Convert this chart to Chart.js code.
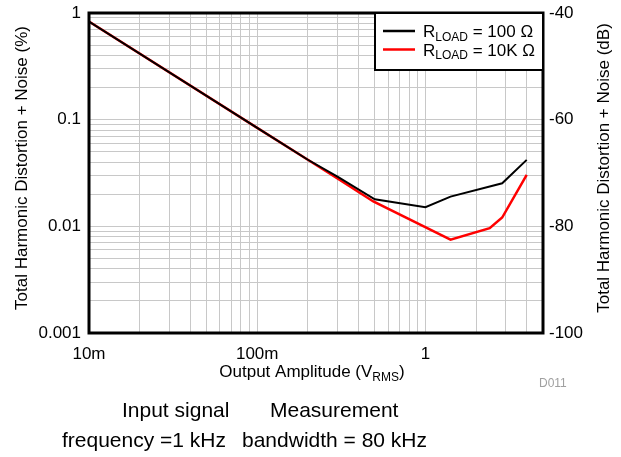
<!DOCTYPE html>
<html>
<head>
<meta charset="utf-8">
<script src="https://cdn.jsdelivr.net/npm/chart.js@4.4.1/dist/chart.umd.min.js"></script>
<style>
  body { margin: 0; background: #fff; }
  #wrap { width: 621px; height: 457px; }
</style>
</head>
<body>
<div id="wrap"><canvas id="thdChart" width="621" height="457"></canvas></div>
<script>
// output amplitude (Vrms) and THD+N (%)
var xLoad100 = [0.01, 0.1, 0.2, 0.3, 0.5, 1, 1.41, 2.86, 4];
var thdLoad100 = [0.83, 0.0838, 0.0421, 0.0292, 0.0179, 0.0151, 0.019, 0.0253, 0.042];
var xLoad10k = [0.01, 0.1, 0.2, 0.3, 0.49, 1.41, 2.41, 2.86, 4];
var thdLoad10k = [0.83, 0.0838, 0.0421, 0.0281, 0.0171, 0.0075, 0.0096, 0.0121, 0.0304];

var xTickVals = [0.01,0.02,0.03,0.04,0.05,0.06,0.07,0.08,0.09,
                 0.1,0.2,0.3,0.4,0.5,0.6,0.7,0.8,0.9,1,2,3,4,5];
var xTickLabels = {0.01: "10m", 0.1: "100m", 1: "1"};
var yTickVals = [0.001,0.002,0.003,0.004,0.005,0.006,0.007,0.008,0.009,
                 0.01,0.02,0.03,0.04,0.05,0.06,0.07,0.08,0.09,
                 0.1,0.2,0.3,0.4,0.5,0.6,0.7,0.8,0.9,1];
var yTickLabels = {0.001: "0.001", 0.01: "0.01", 0.1: "0.1", 1: "1"};
var dbTickVals = [-100, -80, -60, -40];

var legendNames = ["100 \u03A9", "10K \u03A9"];
var lineColors = ["#000000", "#ff0000"];

var FONT = "'Liberation Sans', Arial, Helvetica, sans-serif";

function toPoints(xs, ys) {
    return xs.map(function (x, i) { return {x: x, y: ys[i]}; });
}

function fixTicks(vals) {
    return function (scale) {
        scale.ticks = vals.map(function (v) { return {value: v}; });
    };
}

// no extra room for label overhang, the plot box is placed by hand
function noPad(size, horizontal) {
    return function (s) {
        if (horizontal) s.height = size; else s.width = size;
        s.paddingTop = 0; s.paddingBottom = 0;
        s.paddingLeft = 0; s.paddingRight = 0;
    };
}

// text with a subscript part, drawn left to right
function drawSub(ctx, x, y, parts, size) {
    parts.forEach(function (p) {
        var s = p.sub ? Math.round(size * 0.68) : size;
        ctx.font = s + "px " + FONT;
        ctx.fillText(p.t, x, p.sub ? y + size * 0.22 : y);
        x += ctx.measureText(p.t).width;
    });
    return x;
}
function subWidth(ctx, parts, size) {
    var w = 0;
    parts.forEach(function (p) {
        ctx.font = (p.sub ? Math.round(size * 0.68) : size) + "px " + FONT;
        w += ctx.measureText(p.t).width;
    });
    return w;
}

var decoPlugin = {
    id: "deco",
    afterDatasetsDraw: function (chart) {
        var ctx = chart.ctx, a = chart.chartArea;
        ctx.save();
        // plot frame
        ctx.strokeStyle = "#000";
        ctx.lineWidth = 3;
        ctx.strokeRect(a.left, a.top, a.right - a.left, a.bottom - a.top);

        // legend box
        var lx = 375, ly = a.top, lw = a.right - 375, lh = 57;
        ctx.fillStyle = "#fff";
        ctx.fillRect(lx, ly, lw, lh);
        ctx.lineWidth = 2;
        ctx.strokeRect(lx, ly, lw, lh);
        ctx.textBaseline = "alphabetic";
        ctx.textAlign = "left";
        for (var i = 0; i < legendNames.length; i++) {
            var yy = 31 + i * 18.5;
            ctx.strokeStyle = lineColors[i];
            ctx.lineWidth = 2.5;
            ctx.beginPath();
            ctx.moveTo(383, yy);
            ctx.lineTo(415, yy);
            ctx.stroke();
            ctx.fillStyle = "#000";
            drawSub(ctx, 423, yy + 6, [{t: "R"}, {t: "LOAD", sub: true}, {t: " = " + legendNames[i]}], 17);
        }

        // axis titles
        ctx.fillStyle = "#000";
        ctx.font = "17px " + FONT;
        ctx.textAlign = "center";
        ctx.textBaseline = "middle";
        ctx.save();
        ctx.translate(22, 168);
        ctx.rotate(-Math.PI / 2);
        ctx.fillText("Total Harmonic Distortion + Noise (%)", 0, 0);
        ctx.restore();
        ctx.save();
        ctx.translate(604, 168);
        ctx.rotate(-Math.PI / 2);
        ctx.fillText("Total Harmonic Distortion + Noise (dB)", 0, 0);
        ctx.restore();

        ctx.textAlign = "left";
        ctx.textBaseline = "alphabetic";
        var xt = [{t: "Output Amplitude (V"}, {t: "RMS", sub: true}, {t: ")"}];
        drawSub(ctx, 312 - subWidth(ctx, xt, 17) / 2, 377, xt, 17);

        ctx.fillStyle = "#a0a0a0";
        ctx.font = "12px " + FONT;
        ctx.fillText("D011", 539, 387);

        // caption under the chart
        ctx.fillStyle = "#000";
        ctx.font = "21px " + FONT;
        ctx.fillText("Input signal", 122, 417);
        ctx.fillText("Measurement", 270, 417);
        ctx.fillText("frequency =1 kHz", 62, 447);
        ctx.fillText("bandwidth = 80 kHz", 242, 447);
        ctx.restore();
    }
};

var thdChart = new Chart("thdChart", {
    type: "line",
    data: {
        datasets: [{
            label: "RLOAD = 100",
            data: toPoints(xLoad100, thdLoad100),
            borderColor: lineColors[0],
            borderWidth: 2,
            pointRadius: 0,
            tension: 0,
            fill: false
        }, {
            label: "RLOAD = 10K",
            data: toPoints(xLoad10k, thdLoad10k),
            borderColor: lineColors[1],
            borderWidth: 2.5,
            pointRadius: 0,
            tension: 0,
            fill: false
        }]
    },
    options: {
        responsive: false,
        animation: false,
        devicePixelRatio: 1,
        layout: {padding: {left: 0, right: 0, top: 13, bottom: 0}},
        plugins: {legend: {display: false}, tooltip: {enabled: false}},
        scales: {
            x: {
                type: "logarithmic",
                min: 0.01,
                max: 5,
                afterBuildTicks: fixTicks(xTickVals),
                afterFit: noPad(124, true),
                grid: {color: "#c8c8c8", lineWidth: 1, drawTicks: false},
                border: {display: false},
                ticks: {
                    autoSkip: false,
                    maxRotation: 0,
                    padding: 11,
                    color: "#000",
                    font: {family: FONT, size: 17},
                    callback: function (v) { return xTickLabels[v] || ""; }
                }
            },
            y: {
                type: "logarithmic",
                position: "left",
                min: 0.001,
                max: 1,
                afterBuildTicks: fixTicks(yTickVals),
                afterFit: noPad(89, false),
                grid: {color: "#c8c8c8", lineWidth: 1, drawTicks: false},
                border: {display: false},
                ticks: {
                    autoSkip: false,
                    padding: 8,
                    color: "#000",
                    font: {family: FONT, size: 17},
                    callback: function (v) { return yTickLabels[v] || ""; }
                }
            },
            y2: {
                type: "linear",
                position: "right",
                min: -100,
                max: -40,
                afterBuildTicks: fixTicks(dbTickVals),
                afterFit: noPad(78, false),
                grid: {display: false, drawTicks: false},
                border: {display: false},
                ticks: {
                    padding: 6,
                    color: "#000",
                    font: {family: FONT, size: 17}
                }
            }
        }
    },
    plugins: [decoPlugin]
});
</script>
</body>
</html>
